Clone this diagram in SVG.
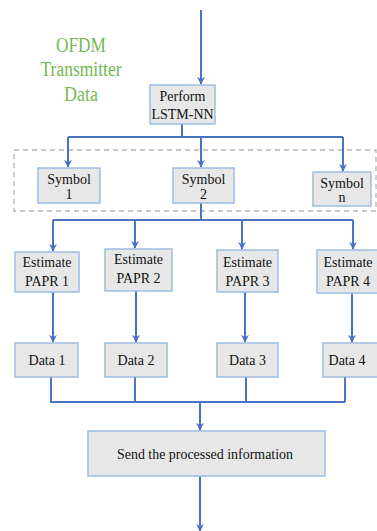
<svg xmlns="http://www.w3.org/2000/svg" width="377" height="531" viewBox="0 0 377 531">
<style>
.box{fill:#e7e7e7;stroke:#9dbde3;stroke-width:1.5}
.t{font-family:"Times New Roman","Liberation Serif",Tinos,"DejaVu Serif",serif;font-size:14px;fill:#111111;text-anchor:middle}
.g{font-family:"Times New Roman","Liberation Serif",Tinos,"DejaVu Serif",serif;font-size:20px;fill:#76b852;text-anchor:middle}
.c{fill:none;stroke:#4a73c3;stroke-width:2}
</style>
<defs>
<marker id="ah" viewBox="0 0 10 10" refX="9" refY="5" markerWidth="4" markerHeight="4" orient="auto" markerUnits="strokeWidth">
<path d="M0,0 L10,5 L0,10 L3,5 z" fill="#4a73c3"/>
</marker>
</defs>
<rect width="377" height="531" fill="#ffffff"/>
<g id="title">
<text class="g" x="81" y="52" textLength="50" lengthAdjust="spacingAndGlyphs">OFDM</text>
<text class="g" x="81" y="76" textLength="81" lengthAdjust="spacingAndGlyphs">Transmitter</text>
<text class="g" x="81" y="101" textLength="34" lengthAdjust="spacingAndGlyphs">Data</text>
</g>
<g id="group-box">
<rect x="14" y="150" width="362" height="61" fill="none" stroke="#b5b5b5" stroke-width="1.3" stroke-dasharray="5,4"/>
</g>
<g id="connectors">
<path class="c" d="M201,10 V84" marker-end="url(#ah)"/>
<path class="c" d="M182,124 V137 M68,137 H343"/>
<path class="c" d="M68,137 V167" marker-end="url(#ah)"/>
<path class="c" d="M201,137 V167" marker-end="url(#ah)"/>
<path class="c" d="M343,137 V171" marker-end="url(#ah)"/>
<path class="c" d="M201,203 V220 M53,220 H353"/>
<path class="c" d="M53,220 V251" marker-end="url(#ah)"/>
<path class="c" d="M135,220 V248" marker-end="url(#ah)"/>
<path class="c" d="M242,220 V249" marker-end="url(#ah)"/>
<path class="c" d="M353,220 V249" marker-end="url(#ah)"/>
<path class="c" d="M53,292 V342" marker-end="url(#ah)"/>
<path class="c" d="M136,291 V342" marker-end="url(#ah)"/>
<path class="c" d="M245,292 V342" marker-end="url(#ah)"/>
<path class="c" d="M352,293 V342" marker-end="url(#ah)"/>
<path class="c" d="M51,377 V402 H345 M135,377 V402 M246,377 V402 M345,377 V402"/>
<path class="c" d="M200,402 V430" marker-end="url(#ah)"/>
<path class="c" d="M200,476 V531" marker-end="url(#ah)"/>
</g>
<g id="perform">
<rect class="box" x="150" y="85" width="65" height="39"/>
<text class="t" x="182.5" y="101">Perform</text>
<text class="t" x="182.5" y="119">LSTM-NN</text>
</g>
<g id="symbol1">
<rect class="box" x="38" y="168" width="62" height="35"/>
<text class="t" x="69" y="184">Symbol</text>
<text class="t" x="69" y="199">1</text>
</g>
<g id="symbol2">
<rect class="box" x="173" y="168" width="61" height="35"/>
<text class="t" x="203.5" y="184">Symbol</text>
<text class="t" x="203.5" y="199">2</text>
</g>
<g id="symboln">
<rect class="box" x="313" y="172" width="58" height="34"/>
<text class="t" x="342" y="188">Symbol</text>
<text class="t" x="342" y="202">n</text>
</g>
<g id="papr1">
<rect class="box" x="15" y="252" width="64" height="40"/>
<text class="t" x="47" y="267">Estimate</text>
<text class="t" x="47" y="286">PAPR 1</text>
</g>
<g id="papr2">
<rect class="box" x="105" y="249" width="67" height="42"/>
<text class="t" x="138.5" y="264">Estimate</text>
<text class="t" x="138.5" y="283">PAPR 2</text>
</g>
<g id="papr3">
<rect class="box" x="217" y="250" width="61" height="42"/>
<text class="t" x="247.5" y="267">Estimate</text>
<text class="t" x="247.5" y="286">PAPR 3</text>
</g>
<g id="papr4">
<rect class="box" x="317" y="250" width="62" height="43"/>
<text class="t" x="348" y="267">Estimate</text>
<text class="t" x="348" y="286">PAPR 4</text>
</g>
<g id="data1">
<rect class="box" x="15" y="343" width="63" height="34"/>
<text class="t" x="47" y="365">Data 1</text>
</g>
<g id="data2">
<rect class="box" x="105" y="343" width="62" height="34"/>
<text class="t" x="136" y="365">Data 2</text>
</g>
<g id="data3">
<rect class="box" x="217" y="343" width="61" height="34"/>
<text class="t" x="247.5" y="365">Data 3</text>
</g>
<g id="data4">
<rect class="box" x="323" y="343" width="56" height="34"/>
<text class="t" x="347" y="365">Data 4</text>
</g>
<g id="send">
<rect class="box" x="88" y="431" width="237" height="45"/>
<text class="t" x="205" y="459" textLength="176" lengthAdjust="spacingAndGlyphs">Send the processed information</text>
</g>
</svg>
